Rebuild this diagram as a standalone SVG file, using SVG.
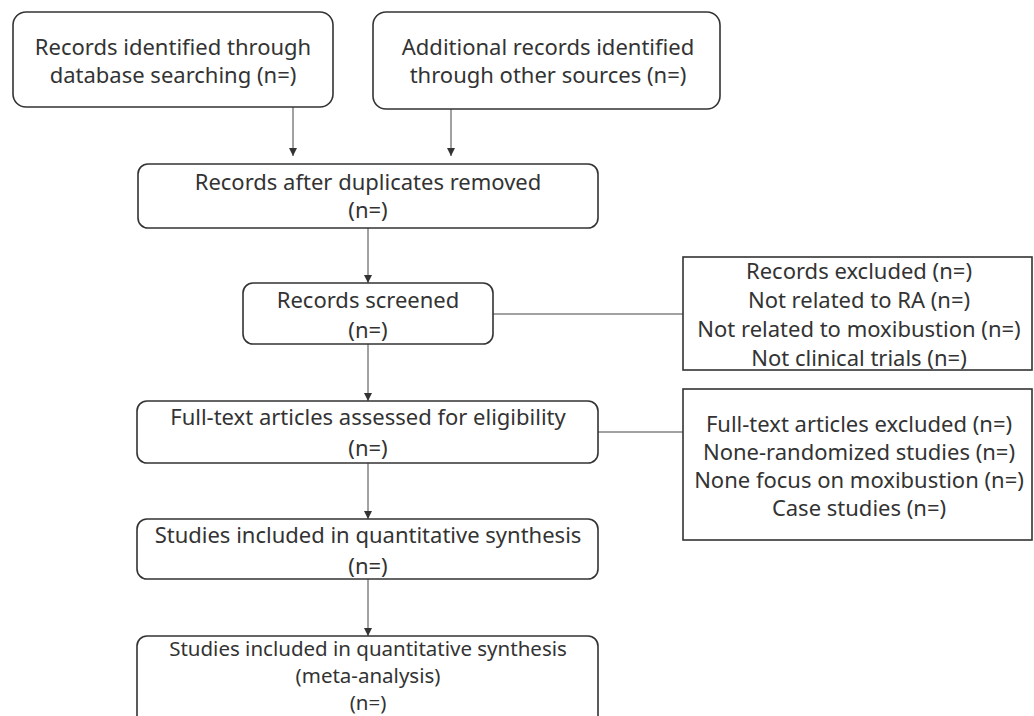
<svg xmlns="http://www.w3.org/2000/svg" width="1034" height="716" viewBox="0 0 1034 716">
<defs>
<style>
.box{fill:#fff;stroke:#333;stroke-width:1.6}
.t{font-family:"Noto Sans","Liberation Sans",Arial,sans-serif;font-size:22px;fill:#333;text-anchor:middle}
.s{font-size:20.5px}
.c{stroke:#444;stroke-width:1;fill:none}
</style>
<marker id="ah" viewBox="0 0 10 10" refX="10" refY="5" markerWidth="8" markerHeight="8" markerUnits="userSpaceOnUse" orient="auto">
<path d="M0,0 L10,5 L0,10 z" fill="#333"/>
</marker>
</defs>
<rect width="1034" height="716" fill="#fff"/>
<g id="connectors">
<line class="c" x1="293" y1="107" x2="293" y2="156" marker-end="url(#ah)"/>
<line class="c" x1="451" y1="109" x2="451" y2="156" marker-end="url(#ah)"/>
<line class="c" x1="368" y1="228" x2="368" y2="283" marker-end="url(#ah)"/>
<line class="c" x1="368" y1="344" x2="368" y2="401" marker-end="url(#ah)"/>
<line class="c" x1="368" y1="463" x2="368" y2="519" marker-end="url(#ah)"/>
<line class="c" x1="368" y1="579" x2="368" y2="636" marker-end="url(#ah)"/>
<line class="c" x1="493" y1="314" x2="683" y2="314"/>
<line class="c" x1="598" y1="432" x2="683" y2="432"/>
</g>
<g id="n1">
<rect class="box" x="13" y="12" width="320" height="95" rx="13"/>
<text class="t" x="173" y="55">Records identified through</text>
<text class="t" x="173" y="83">database searching (n=)</text>
</g>
<g id="n2">
<rect class="box" x="373" y="12" width="347" height="97" rx="13"/>
<text class="t" x="548" y="55">Additional records identified</text>
<text class="t" x="548" y="83">through other sources (n=)</text>
</g>
<g id="n3">
<rect class="box" x="138" y="164" width="460" height="64" rx="10"/>
<text class="t" x="368" y="190">Records after duplicates removed</text>
<text class="t" x="368" y="218">(n=)</text>
</g>
<g id="n4">
<rect class="box" x="243" y="283" width="250" height="61" rx="10"/>
<text class="t" x="368" y="308">Records screened</text>
<text class="t" x="368" y="338">(n=)</text>
</g>
<g id="n5">
<rect class="box" x="137" y="401" width="461" height="62" rx="10"/>
<text class="t" x="368" y="425">Full-text articles assessed for eligibility</text>
<text class="t" x="368" y="456">(n=)</text>
</g>
<g id="n6">
<rect class="box" x="137" y="519" width="461" height="60" rx="10"/>
<text class="t" x="368" y="543">Studies included in quantitative synthesis</text>
<text class="t" x="368" y="574">(n=)</text>
</g>
<g id="n7">
<rect class="box" x="137" y="636" width="461" height="100" rx="10"/>
<text class="t s" x="368" y="656">Studies included in quantitative synthesis</text>
<text class="t s" x="368" y="683">(meta-analysis)</text>
<text class="t s" x="368" y="710">(n=)</text>
</g>
<g id="e1">
<rect class="box" x="683" y="257" width="349" height="113" rx="0"/>
<text class="t" x="859" y="279">Records excluded (n=)</text>
<text class="t" x="859" y="308">Not related to RA (n=)</text>
<text class="t" x="859" y="337">Not related to moxibustion (n=)</text>
<text class="t" x="859" y="366">Not clinical trials (n=)</text>
</g>
<g id="e2">
<rect class="box" x="683" y="389" width="349" height="151" rx="0"/>
<text class="t" x="859" y="432">Full-text articles excluded (n=)</text>
<text class="t" x="859" y="460">None-randomized studies (n=)</text>
<text class="t" x="859" y="488">None focus on moxibustion (n=)</text>
<text class="t" x="859" y="516">Case studies (n=)</text>
</g>
</svg>
